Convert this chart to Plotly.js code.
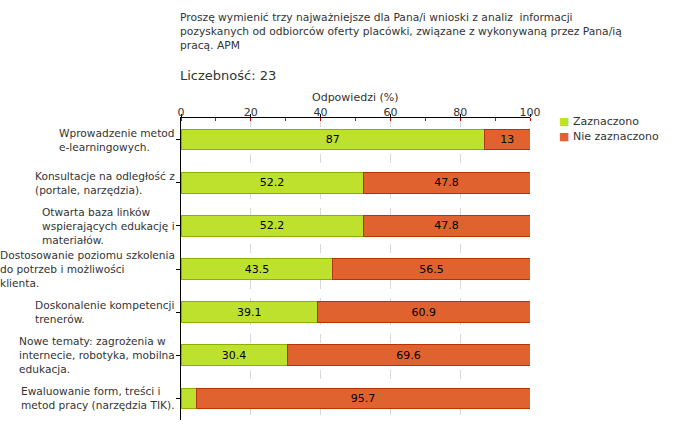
<!DOCTYPE html>
<html>
<head>
<meta charset="utf-8">
<script src="https://cdn.plot.ly/plotly-3.0.1.min.js"></script>
<style>html,body{margin:0;padding:0;background:#fff;}#chart{width:680px;height:440px;}</style>
</head>
<body>
<div id="chart"></div>
<script>
var categories = [
  "Wprowadzenie metod<br>e-learningowych.",
  "Konsultacje na odległość z<br>(portale, narzędzia).",
  "Otwarta baza linków<br>wspierających edukację i<br>materiałów.",
  "Dostosowanie poziomu szkolenia<br>do potrzeb i możliwości<br>klienta.",
  "Doskonalenie kompetencji<br>trenerów.",
  "Nowe tematy: zagrożenia w<br>internecie, robotyka, mobilna<br>edukacja.",
  "Ewaluowanie form, treści i<br>metod pracy (narzędzia TIK)."
];
var zaznaczono = [87, 52.2, 52.2, 43.5, 39.1, 30.4, 4.3];
var nieZaznaczono = [13, 47.8, 47.8, 56.5, 60.9, 69.6, 95.7];
var seriesNames = ["Zaznaczono", "Nie zaznaczono"];
var xTicks = [0, 20, 40, 60, 80, 100];
var titleText = "Proszę wymienić trzy najważniejsze dla Pana/i wnioski z analiz  informacji<br>pozyskanych od odbiorców oferty placówki, związane z wykonywaną przez Pana/ią<br>pracą. APM";
var countText = "Liczebność: 23";
var xTitle = "Odpowiedzi (%)";

var FONT = "DejaVu Sans";
var TXT = "#333333";
var greenFill = "#bee12d", greenLine = "#8ab000";
var orangeFill = "#e0632f", orangeLine = "#b83300";
var colors = [greenFill, orangeFill];

// plot area in pixels: x 181..530, y 118..420
function py(pix){ return (420 - pix) / 302; }
function px(pix){ return (pix - 181) / 349; }

function labels(vals){ return vals.map(function(v){ return v >= 8 ? String(v) : ""; }); }

var traces = [
  {type:"bar", orientation:"h", name:seriesNames[0], y:categories, x:zaznaczono,
   marker:{color:greenFill, line:{color:greenLine, width:1}},
   text:labels(zaznaczono), textposition:"inside", insidetextanchor:"middle", textangle:0,
   textfont:{family:FONT, size:11, color:"#000"}, hoverinfo:"x", cliponaxis:false},
  {type:"bar", orientation:"h", name:seriesNames[1], y:categories, x:nieZaznaczono,
   marker:{color:orangeFill, line:{color:orangeLine, width:1}},
   text:labels(nieZaznaczono), textposition:"inside", insidetextanchor:"middle", textangle:0,
   textfont:{family:FONT, size:11, color:"#000"}, hoverinfo:"x", cliponaxis:false}
];

var annotations = categories.map(function(c){
  return {xref:"paper", x:0, xanchor:"right", xshift:-4, yref:"y", y:c, yanchor:"middle",
          text:c, align:"left", showarrow:false, font:{family:FONT, size:10.6, color:TXT}};
});
// chart title (question)
annotations.push({xref:"paper", yref:"paper", x:0, y:py(9), xanchor:"left", yanchor:"top", xshift:-3,
  text:titleText, showarrow:false, align:"left", font:{family:FONT, size:10.7, color:TXT}});
// count
annotations.push({xref:"paper", yref:"paper", x:0, y:py(75), xanchor:"left", yanchor:"middle",
  xshift:-3, text:countText, showarrow:false, align:"left", font:{family:FONT, size:13, color:TXT}});
// axis title
annotations.push({xref:"paper", yref:"paper", x:0.5, y:py(97), xanchor:"center", yanchor:"middle",
  text:xTitle, showarrow:false, font:{family:FONT, size:11, color:TXT}});
// legend
seriesNames.forEach(function(n, i){
  annotations.push({xref:"paper", yref:"paper", x:px(557), y:py(122 + 14*i), xanchor:"left", yanchor:"middle",
    text:"<span style='color:" + colors[i] + "'>■</span> " + n, showarrow:false, align:"left",
    font:{family:FONT, size:11, color:TXT}});
});

var layout = {
  width:680, height:440,
  paper_bgcolor:"#fff", plot_bgcolor:"#fff",
  margin:{l:181, r:150, t:118, b:20, pad:0, autoexpand:false},
  barmode:"stack", bargap:0.52,
  font:{family:FONT, size:11, color:TXT},
  showlegend:false,
  xaxis:{side:"top", range:[0,100], tickvals:xTicks, ticktext:xTicks.map(String),
         ticks:"outside", ticklen:3, tickcolor:"#000", tickwidth:1,
         ticklabelstandoff:-6,
         showline:true, linecolor:"#000", linewidth:1,
         showgrid:true, gridcolor:"#d9d9d9", griddash:"dash", gridwidth:1, zeroline:false,
         minor:{dtick:10, tick0:0, ticks:"inside", ticklen:3, tickcolor:"#dd0000", showgrid:false},
         tickfont:{family:FONT, size:11, color:TXT},
         fixedrange:true},
  yaxis:{type:"category", autorange:"reversed", showticklabels:false,
         ticks:"outside", ticklen:4, tickcolor:"#000",
         showline:true, linecolor:"#000", linewidth:1, showgrid:false, zeroline:false, fixedrange:true},
  annotations:annotations
};

Plotly.newPlot("chart", traces, layout, {displayModeBar:false, staticPlot:true});
</script>
</body>
</html>
